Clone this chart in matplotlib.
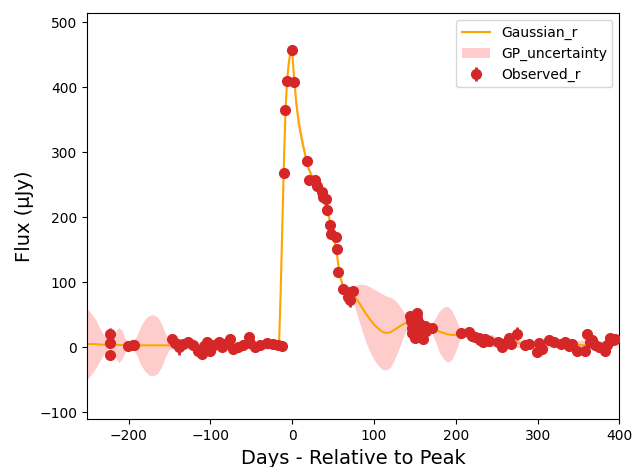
import matplotlib
matplotlib.use("Agg")
import matplotlib.pyplot as plt
import numpy as np

# model curve: days, mean flux, 1-sigma width
curve_days = [-251, -245, -240, -235, -230, -225, -220, -215, -212, -208, -204, -200,
              -195, -190, -185, -180, -175, -170, -165, -160, -155, -150, -140, -120,
              -100, -80, -60, -40, -25, -18, -16, -14, -12, -10, -8, -6, -4, -2, -1,
              0, 2, 5, 8, 12, 16, 20, 25, 30, 35, 40, 45, 50, 55, 58, 62, 66, 70, 75,
              80, 85, 90, 95, 100, 105, 110, 115, 120, 125, 130, 135, 140, 145, 150,
              160, 170, 175, 180, 185, 190, 195, 200, 205, 210, 220, 230, 244, 250,
              260, 270, 280, 290, 300, 320, 340, 356, 370, 380, 390, 400]
curve_flux = [5, 5, 5, 4, 4, 4, 4, 4, 3.5, 3.5, 3, 3,
              3, 3, 3, 3, 3, 3, 3, 3, 3, 3, 3, 2,
              2, 3, 3, 2, 2, 2, 8, 90, 190, 290, 370, 415, 440, 455, 460,
              455, 420, 375, 345, 318, 295, 275, 260, 250, 238, 222, 200, 175, 140, 112, 93, 86, 82, 79,
              72, 62, 52, 43, 35, 29, 24, 22, 23, 27, 31, 35, 38, 39, 37,
              34, 30, 27, 24, 22, 20, 19, 19, 20, 20, 17, 13, 10, 9,
              6, 9, 5, 3, 2, 5, 5, 3, 4, 5, 7, 10]
curve_sigma = [55, 46, 37, 25, 14, 6, 8, 22, 27, 22, 10, 5,
               5, 15, 30, 40, 46, 47, 44, 34, 18, 6, 5, 5,
               5, 5, 5, 5, 5, 5, 5, 5, 5, 5, 5, 5, 5, 5, 5,
               5, 6, 10, 12, 10, 6, 5, 5, 5, 5, 5, 5, 5, 5, 5, 6, 7, 6, 10,
               25, 35, 44, 50, 54, 57, 58, 57, 54, 46, 35, 22, 10, 5, 5,
               5, 5, 18, 32, 40, 43, 38, 25, 8, 5, 5, 5, 10, 6,
               5, 10, 5, 5, 5, 5, 5, 8, 5, 5, 5, 8]

# observed r-band points
obs_days = [-223, -223, -223, -201, -195, -193,
            -147, -143, -138, -133, -127, -121, -115, -110, -108, -104, -100, -96,
            -90, -86, -82, -76, -72, -66, -60, -53, -51, -45, -39, -31, -23, -17, -13,
            -10.6, -8.5, -6.5, -0.5, 1.6, 17.9, 21, 28, 30.8, 36, 38, 41.3, 42, 46, 48,
            53.5, 54.3, 56.3, 62.5, 68.5, 70.5, 73.8, 70.5,
            144, 145, 146, 147, 148, 150, 152, 153, 155, 156, 158, 160, 162, 164,
            170.7, 206, 216, 220, 224, 228, 230, 233, 236, 240, 251, 257, 262, 265,
            268, 275, 285, 290, 299.6, 301.5, 305, 313.7, 320, 328, 334, 338, 342,
            348, 358, 360, 364, 366, 370, 374.5, 382.6, 385, 388.7, 392.7, 395]
obs_flux = [21, 6, -12, 2, 3, 3,
            13, 6, 0, 5, 8, 3, -5, -10, 2, 8, -5, 3,
            8, 0, 5, 13, -2, 0, 3, 16, 6, 0, 3, 6, 5, 4, 2,
            268, 366, 410, 457, 408, 286, 257, 258, 249, 239, 231, 229, 211, 189, 174,
            170, 152, 116, 89, 77, 85, 87, 72,
            48, 40, 30, 22, 35, 15, 52, 45, 38, 28, 20, 12, 32, 25,
            30, 22, 24, 18, 16, 14, 11, 8, 13, 10, 8, 0, 8, 14,
            5, 21, 3, 5, -7, 6, -3, 11, 8, 5, 8, 2, 5,
            -5, -5, 21, 8, 11, 3, 0, -5, 3, 15, 11, 12]
obs_err = [8, 6, 8, 4, 5, 4,
           5, 4, 12, 4, 4, 4, 5, 6, 4, 4, 5, 4,
           4, 4, 4, 5, 4, 4, 4, 5, 4, 4, 4, 4, 4, 4, 4,
           5, 5, 5, 5, 5, 5, 5, 5, 5, 5, 5, 5, 5, 5, 5,
           5, 5, 5, 6, 8, 6, 6, 10,
           6, 6, 6, 6, 6, 6, 9, 6, 6, 6, 6, 6, 6, 6,
           5, 5, 5, 5, 5, 5, 5, 5, 5, 5, 5, 5, 5, 5,
           5, 10, 5, 5, 5, 5, 5, 5, 5, 5, 5, 5, 5,
           5, 5, 5, 5, 5, 5, 5, 5, 5, 5, 5, 5]


def main():
    days = np.array(curve_days)
    flux = np.array(curve_flux)
    sigma = np.array(curve_sigma)

    fig, ax = plt.subplots(figsize=(6.34, 4.67), dpi=100)
    fig.subplots_adjust(left=0.137, right=0.977, top=0.972, bottom=0.102)

    ax.plot(days, flux, color="orange", lw=1.5, label="Gaussian_r", zorder=2)
    ax.fill_between(days, flux - sigma, flux + sigma, color="red", alpha=0.2,
                    lw=0, label="GP_uncertainty", zorder=1)
    ax.errorbar(obs_days, obs_flux, yerr=obs_err, fmt="o", color="#d62728",
                ms=7, elinewidth=2, label="Observed_r", zorder=3)

    ax.set_xlim(-251, 400)
    ax.set_ylim(-111, 514.5)
    ax.set_xlabel("Days - Relative to Peak", fontsize=14)
    ax.set_ylabel("Flux (µJy)", fontsize=14)
    ax.legend(loc="upper right")

    fig.savefig("out.png")
    plt.close(fig)


if __name__ == "__main__":
    main()
